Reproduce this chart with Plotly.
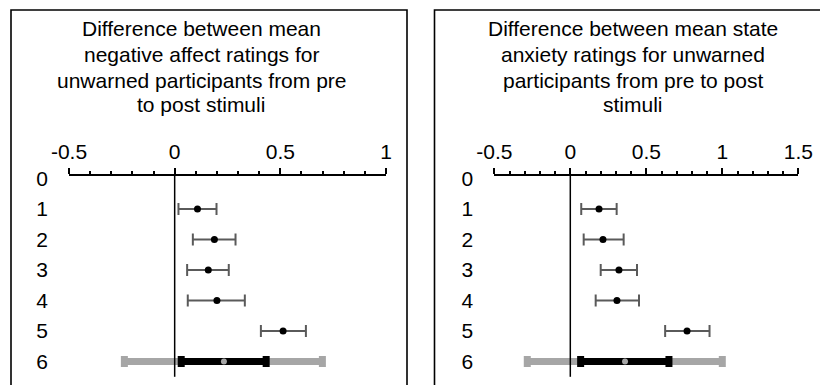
import plotly.graph_objects as go

W, H = 820, 385

# ---------------- data ----------------
rows = [1, 2, 3, 4, 5]
row_labels = ["0", "1", "2", "3", "4", "5", "6"]
row_vals = [0, 1, 2, 3, 4, 5, 6]

# Left panel: negative affect
neg_mean = [0.108, 0.188, 0.159, 0.200, 0.513]
neg_lo = [0.018, 0.086, 0.059, 0.062, 0.408]
neg_hi = [0.198, 0.288, 0.256, 0.332, 0.621]
neg_sum_mean = 0.233
neg_ci = [0.031, 0.433]
neg_pi = [-0.238, 0.699]
neg_ticks = [-0.5, 0, 0.5, 1]
neg_ticktext = ["-0.5", "0", "0.5", "1"]

# Right panel: state anxiety
anx_mean = [0.189, 0.215, 0.320, 0.307, 0.768]
anx_lo = [0.072, 0.088, 0.200, 0.167, 0.624]
anx_hi = [0.305, 0.351, 0.439, 0.452, 0.916]
anx_sum_mean = 0.360
anx_ci = [0.068, 0.649]
anx_pi = [-0.283, 1.000]
anx_ticks = [-0.5, 0, 0.5, 1, 1.5]
anx_ticktext = ["-0.5", "0", "0.5", "1", "1.5"]

neg_title = ["Difference between mean", "negative affect ratings for",
             "unwarned participants from pre", "to post stimuli"]
anx_title = ["Difference between mean state", "anxiety ratings for unwarned",
             "participants from pre to post", "stimuli"]

FONT = "Liberation Sans, Arial, sans-serif"
SUM_ROW = 6

fig = go.Figure()


def add_panel(xa, ya, mean, lo, hi, smean, ci, pi):
    xr, yr = "x" + xa, "y" + ya
    # study rows
    fig.add_trace(go.Scatter(
        x=mean, y=rows, mode="markers", xaxis=xr, yaxis=yr,
        marker=dict(color="black", size=7),
        error_x=dict(type="data", symmetric=False,
                     array=[h - m for h, m in zip(hi, mean)],
                     arrayminus=[m - l for m, l in zip(mean, lo)],
                     color="#5a5a5a", thickness=2, width=6),
        showlegend=False, hoverinfo="skip"))
    # prediction interval (grey)
    fig.add_trace(go.Scatter(
        x=[smean], y=[SUM_ROW], mode="markers", xaxis=xr, yaxis=yr,
        marker=dict(color="rgba(0,0,0,0)", size=1),
        error_x=dict(type="data", symmetric=False,
                     array=[pi[1] - smean], arrayminus=[smean - pi[0]],
                     color="#a6a6a6", thickness=7, width=5.5),
        showlegend=False, hoverinfo="skip"))
    # confidence interval (black)
    fig.add_trace(go.Scatter(
        x=[smean], y=[SUM_ROW], mode="markers", xaxis=xr, yaxis=yr,
        marker=dict(color="#a6a6a6", size=6),
        error_x=dict(type="data", symmetric=False,
                     array=[ci[1] - smean], arrayminus=[smean - ci[0]],
                     color="black", thickness=7, width=5.5),
        showlegend=False, hoverinfo="skip"))


add_panel("", "", neg_mean, neg_lo, neg_hi, neg_sum_mean, neg_ci, neg_pi)
add_panel("2", "2", anx_mean, anx_lo, anx_hi, anx_sum_mean, anx_ci, anx_pi)

ydom = [1 - 376.8 / H, 1 - 175.5 / H]


def xaxis(dom, rng, tv, tt, anchor):
    return dict(domain=dom, range=rng, side="top", anchor=anchor,
                automargin=False,
                showline=True, linecolor="black", linewidth=1.5,
                ticks="outside", ticklen=6, tickwidth=1.5, tickcolor="black",
                tickvals=tv, ticktext=tt, showgrid=False, zeroline=False,
                tickfont=dict(family=FONT, size=21, color="black"),
                minor=dict(dtick=0.1, tick0=0, ticks="outside", ticklen=3,
                           tickwidth=1.5, tickcolor="black", showgrid=False),
                fixedrange=True)


def yaxis(anchor):
    return dict(domain=ydom, range=[6.5, -0.1], anchor=anchor,
                automargin=False,
                tickvals=row_vals, ticktext=row_labels, showline=False,
                ticks="", showgrid=False, zeroline=False,
                ticklabelstandoff=20,
                tickfont=dict(family=FONT, size=21, color="black"),
                fixedrange=True)


fig.update_layout(
    width=W, height=H, margin=dict(l=0, r=0, t=0, b=0, pad=0),
    paper_bgcolor="white", plot_bgcolor="white",
    xaxis=xaxis([69 / W, 386 / W], [-0.5, 1], neg_ticks, neg_ticktext, "y"),
    yaxis=yaxis("x"),
    xaxis2=xaxis([494.3 / W, 798.3 / W], [-0.5, 1.5], anx_ticks, anx_ticktext, "y2"),
    yaxis2=yaxis("x2"),
)

# zero reference lines
for xr, yr in (("x", "y domain"), ("x2", "y2 domain")):
    fig.add_shape(type="line", xref=xr, yref=yr, x0=0, x1=0, y0=0, y1=1,
                  line=dict(color="black", width=1.5), layer="above")

# panel borders
fig.add_shape(type="rect", xref="paper", yref="paper",
              x0=11 / W, x1=407 / W, y0=-0.05, y1=1 - 10 / H,
              line=dict(color="black", width=1.6), layer="below")
fig.add_shape(type="rect", xref="paper", yref="paper",
              x0=434.5 / W, x1=1.05, y0=-0.05, y1=1 - 10 / H,
              line=dict(color="black", width=1.6), layer="below")

# titles (one annotation per line)
line_y = [28, 54, 80, 105]
for cx, lines in ((201, neg_title), (633, anx_title)):
    for ly, txt in zip(line_y, lines):
        fig.add_annotation(x=cx / W, y=1 - ly / H, xref="paper", yref="paper",
                           text=txt, showarrow=False, xanchor="center",
                           yanchor="middle",
                           font=dict(family=FONT, size=21, color="black"))

fig.write_html("out.html")
